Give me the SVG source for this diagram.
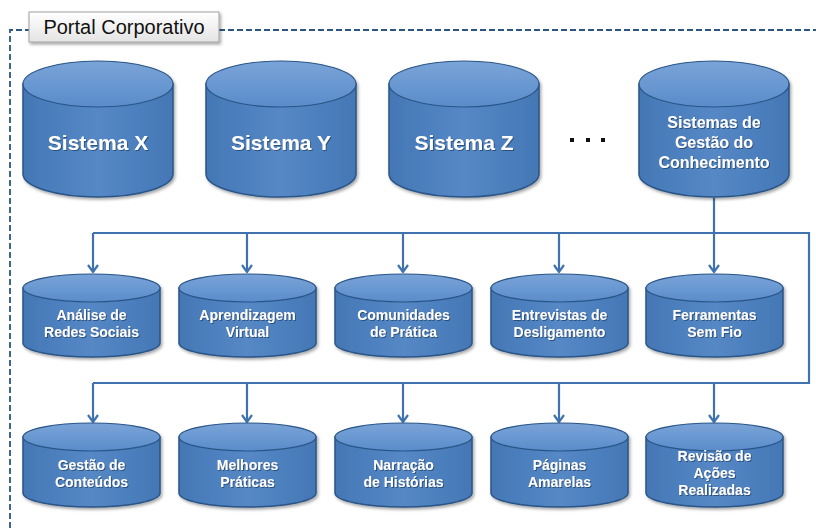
<svg xmlns="http://www.w3.org/2000/svg" width="816" height="528" viewBox="0 0 816 528">
<defs>
<linearGradient id="body" x1="0" y1="0" x2="1" y2="0">
<stop offset="0" stop-color="#4477B5"/>
<stop offset="0.5" stop-color="#5688C6"/>
<stop offset="1" stop-color="#4477B5"/>
</linearGradient>
<linearGradient id="top" x1="0" y1="0" x2="0" y2="1">
<stop offset="0" stop-color="#7AA4D8"/>
<stop offset="1" stop-color="#5A8CCA"/>
</linearGradient>
<linearGradient id="lbl" x1="0" y1="0" x2="0" y2="1">
<stop offset="0" stop-color="#FFFFFF"/>
<stop offset="1" stop-color="#E4E4E4"/>
</linearGradient>
<filter id="sh" x="-10%" y="-10%" width="125%" height="130%">
<feDropShadow dx="1.5" dy="2" stdDeviation="1.5" flood-color="#000" flood-opacity="0.35"/>
</filter>
<filter id="ts" x="-10%" y="-10%" width="120%" height="130%">
<feDropShadow dx="1" dy="1" stdDeviation="0.6" flood-color="#1B3A5E" flood-opacity="0.7"/>
</filter>
<marker id="arr" viewBox="0 0 12 12" refX="11" refY="6" markerWidth="12" markerHeight="12" markerUnits="userSpaceOnUse" orient="auto">
<path d="M4,1 L11,6 L4,11" fill="none" stroke="#3F72AE" stroke-width="2.2"/>
</marker>
</defs>
<style>
.bd{fill:url(#body);stroke:#2A5587;stroke-width:1.5}
.tp{fill:url(#top);stroke:#2A5587;stroke-width:1.2}
.big{font-family:"Liberation Sans",Arial,sans-serif;font-weight:bold;font-size:21px;fill:#fff;text-anchor:middle}
.mid{font-family:"Liberation Sans",Arial,sans-serif;font-weight:bold;font-size:16px;fill:#fff;text-anchor:middle}
.sm{font-family:"Liberation Sans",Arial,sans-serif;font-weight:bold;font-size:14px;fill:#fff;text-anchor:middle}
.cn{fill:none;stroke:#3F72AE;stroke-width:2.2}
</style>
<rect width="816" height="528" fill="#fff"/>
<g id="portal">
<path d="M10,528 L10,30 L30,30 M219,30 L816,30" fill="none" stroke="#2A5584" stroke-width="1.8" stroke-dasharray="6,3"/>
<rect x="29" y="12" width="190" height="30" fill="url(#lbl)" stroke="#A0A0A0" stroke-width="1" filter="url(#sh)"/>
<text x="124" y="34" font-family="'Liberation Sans',Arial,sans-serif" font-size="20" fill="#111" text-anchor="middle">Portal Corporativo</text>
</g>
<g id="connectors">
<path class="cn" d="M714,198 L714,233"/>
<path class="cn" d="M93,233 L809,233 L809,383 L93,383"/>
<path class="cn" d="M93,233 L93,272" marker-end="url(#arr)"/>
<path class="cn" d="M247,233 L247,272" marker-end="url(#arr)"/>
<path class="cn" d="M403,233 L403,272" marker-end="url(#arr)"/>
<path class="cn" d="M559,233 L559,272" marker-end="url(#arr)"/>
<path class="cn" d="M714,233 L714,272" marker-end="url(#arr)"/>
<path class="cn" d="M93,383 L93,422" marker-end="url(#arr)"/>
<path class="cn" d="M247,383 L247,422" marker-end="url(#arr)"/>
<path class="cn" d="M403,383 L403,422" marker-end="url(#arr)"/>
<path class="cn" d="M559,383 L559,422" marker-end="url(#arr)"/>
<path class="cn" d="M714,383 L714,422" marker-end="url(#arr)"/>
</g>
<g id="sistema-x" filter="url(#sh)">
<path class="bd" d="M23,84 L23,174 A75,23 0 0 0 173,174 L173,84 Z"/>
<ellipse class="tp" cx="98" cy="84" rx="75" ry="23"/>
<text class="big" x="98" y="150" filter="url(#ts)">Sistema X</text>
</g>
<g id="sistema-y" filter="url(#sh)">
<path class="bd" d="M206,84 L206,174 A75,23 0 0 0 356,174 L356,84 Z"/>
<ellipse class="tp" cx="281" cy="84" rx="75" ry="23"/>
<text class="big" x="281" y="150" filter="url(#ts)">Sistema Y</text>
</g>
<g id="sistema-z" filter="url(#sh)">
<path class="bd" d="M389,84 L389,174 A75,23 0 0 0 539,174 L539,84 Z"/>
<ellipse class="tp" cx="464" cy="84" rx="75" ry="23"/>
<text class="big" x="464" y="150" filter="url(#ts)">Sistema Z</text>
</g>
<g id="dots" fill="#111">
<rect x="570" y="138" width="4" height="4"/>
<rect x="586" y="138" width="4" height="4"/>
<rect x="601" y="138" width="4" height="4"/>
</g>
<g id="sgc" filter="url(#sh)">
<path class="bd" d="M639,84 L639,174 A75,23 0 0 0 789,174 L789,84 Z"/>
<ellipse class="tp" cx="714" cy="84" rx="75" ry="23"/>
<text class="mid" x="714" y="128" filter="url(#ts)">Sistemas de</text>
<text class="mid" x="714" y="148" filter="url(#ts)">Gestão do</text>
<text class="mid" x="714" y="168" filter="url(#ts)">Conhecimento</text>
</g>
<g id="analise" filter="url(#sh)">
<path class="bd" d="M23,288 L23,343 A68.5,14 0 0 0 160,343 L160,288 Z"/>
<ellipse class="tp" cx="91.5" cy="288" rx="68.5" ry="14"/>
<text class="sm" x="91.5" y="320" filter="url(#ts)">Análise de</text>
<text class="sm" x="91.5" y="337" filter="url(#ts)">Redes Sociais</text>
</g>
<g id="aprendizagem" filter="url(#sh)">
<path class="bd" d="M179,288 L179,343 A68.5,14 0 0 0 316,343 L316,288 Z"/>
<ellipse class="tp" cx="247.5" cy="288" rx="68.5" ry="14"/>
<text class="sm" x="247.5" y="320" filter="url(#ts)">Aprendizagem</text>
<text class="sm" x="247.5" y="337" filter="url(#ts)">Virtual</text>
</g>
<g id="comunidades" filter="url(#sh)">
<path class="bd" d="M335,288 L335,343 A68.5,14 0 0 0 472,343 L472,288 Z"/>
<ellipse class="tp" cx="403.5" cy="288" rx="68.5" ry="14"/>
<text class="sm" x="403.5" y="320" filter="url(#ts)">Comunidades</text>
<text class="sm" x="403.5" y="337" filter="url(#ts)">de Prática</text>
</g>
<g id="entrevistas" filter="url(#sh)">
<path class="bd" d="M491,288 L491,343 A68.5,14 0 0 0 628,343 L628,288 Z"/>
<ellipse class="tp" cx="559.5" cy="288" rx="68.5" ry="14"/>
<text class="sm" x="559.5" y="320" filter="url(#ts)">Entrevistas de</text>
<text class="sm" x="559.5" y="337" filter="url(#ts)">Desligamento</text>
</g>
<g id="ferramentas" filter="url(#sh)">
<path class="bd" d="M646,288 L646,343 A68.5,14 0 0 0 783,343 L783,288 Z"/>
<ellipse class="tp" cx="714.5" cy="288" rx="68.5" ry="14"/>
<text class="sm" x="714.5" y="320" filter="url(#ts)">Ferramentas</text>
<text class="sm" x="714.5" y="337" filter="url(#ts)">Sem Fio</text>
</g>
<g id="gestao-conteudos" filter="url(#sh)">
<path class="bd" d="M23,437 L23,493 A68.5,14 0 0 0 160,493 L160,437 Z"/>
<ellipse class="tp" cx="91.5" cy="437" rx="68.5" ry="14"/>
<text class="sm" x="91.5" y="470" filter="url(#ts)">Gestão de</text>
<text class="sm" x="91.5" y="487" filter="url(#ts)">Conteúdos</text>
</g>
<g id="melhores" filter="url(#sh)">
<path class="bd" d="M179,437 L179,493 A68.5,14 0 0 0 316,493 L316,437 Z"/>
<ellipse class="tp" cx="247.5" cy="437" rx="68.5" ry="14"/>
<text class="sm" x="247.5" y="470" filter="url(#ts)">Melhores</text>
<text class="sm" x="247.5" y="487" filter="url(#ts)">Práticas</text>
</g>
<g id="narracao" filter="url(#sh)">
<path class="bd" d="M335,437 L335,493 A68.5,14 0 0 0 472,493 L472,437 Z"/>
<ellipse class="tp" cx="403.5" cy="437" rx="68.5" ry="14"/>
<text class="sm" x="403.5" y="470" filter="url(#ts)">Narração</text>
<text class="sm" x="403.5" y="487" filter="url(#ts)">de Histórias</text>
</g>
<g id="paginas" filter="url(#sh)">
<path class="bd" d="M491,437 L491,493 A68.5,14 0 0 0 628,493 L628,437 Z"/>
<ellipse class="tp" cx="559.5" cy="437" rx="68.5" ry="14"/>
<text class="sm" x="559.5" y="470" filter="url(#ts)">Páginas</text>
<text class="sm" x="559.5" y="487" filter="url(#ts)">Amarelas</text>
</g>
<g id="revisao" filter="url(#sh)">
<path class="bd" d="M646,437 L646,493 A68.5,14 0 0 0 783,493 L783,437 Z"/>
<ellipse class="tp" cx="714.5" cy="437" rx="68.5" ry="14"/>
<text class="sm" x="714.5" y="461" filter="url(#ts)">Revisão de</text>
<text class="sm" x="714.5" y="478" filter="url(#ts)">Ações</text>
<text class="sm" x="714.5" y="495" filter="url(#ts)">Realizadas</text>
</g>
</svg>
